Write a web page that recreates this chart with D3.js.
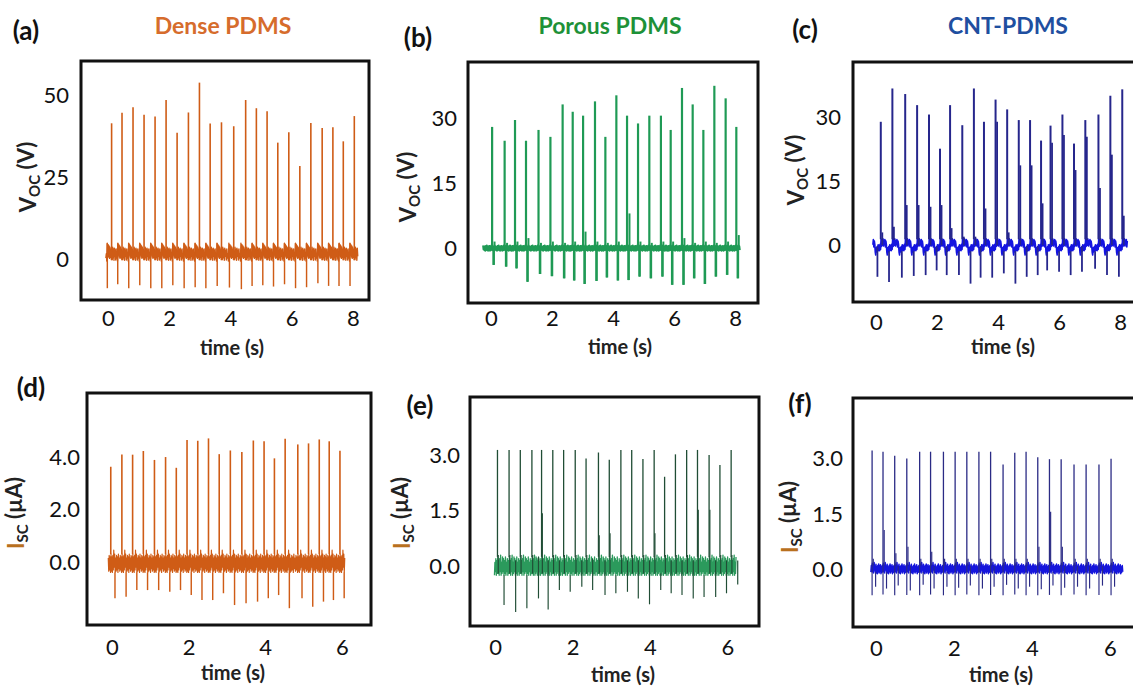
<!DOCTYPE html>
<html>
<head>
<meta charset="utf-8">
<script src="https://cdn.jsdelivr.net/npm/d3@7"></script>
<style>
  body { margin: 0; background: #fff; }
  text { font-family: Lato, "Open Sans", sans-serif; }
</style>
</head>
<body>
<script>
// ---- values ----

// tick labels
var timeTicks8 = [0, 2, 4, 6, 8];
var timeTicks6 = [0, 2, 4, 6];
var vocTicksA = [0, 25, 50];
var vocTicksBC = [0, 15, 30];
var iscTicksD = [0, 2, 4];
var iscTicksEF = [0, 1.5, 3];

// (a) dense PDMS, Voc (V)
var spikeTimeA = [0.12, 0.46, 0.82, 1.18, 1.54, 1.90, 2.26, 2.63, 2.99, 3.34, 3.71, 4.11, 4.50, 4.85, 5.20, 5.55, 5.91, 6.27, 6.63, 7.00, 7.35, 7.69, 8.05];
var vocA = [41.4, 44.6, 46.3, 44.0, 43.5, 48.5, 38.5, 44.7, 53.8, 41.3, 41.7, 40.5, 48.5, 46.0, 45.1, 35.5, 38.7, 28.4, 41.5, 40.0, 40.2, 35.9, 43.6];
var dipA = [-8.9, -7.7, -8.9, -8.0, -8.9, -8.9, -8.0, -8.9, -8.6, -8.9, -8.2, -8.7, -9.2, -8.2, -8.0, -8.4, -7.7, -8.9, -8.6, -7.4, -8.2, -8.2, -8.2];
var rippleA = [2.4, -0.2, 3.6, 0.4, 3.0, -0.4, 3.3, 0.8, 2.7, -0.3, 3.1, 0.3, 1.6, -0.6, 4.8, 1.2, 4.4, 0.6, 4.0, 0.2, 3.6, 0.5, 3.0, -0.2];

// (b) porous PDMS, Voc (V)
var spikeTimeB = [0.04, 0.45, 0.79, 1.15, 1.56, 1.95, 2.35, 2.68, 3.02, 3.41, 3.75, 4.11, 4.46, 4.82, 5.19, 5.57, 5.89, 6.26, 6.61, 6.96, 7.32, 7.69, 8.04];
var vocB = [28.0, 24.8, 29.6, 24.8, 27.3, 25.7, 33.2, 31.5, 30.6, 33.9, 25.7, 35.3, 30.6, 28.8, 30.6, 30.6, 27.3, 37.0, 33.2, 27.3, 37.5, 34.6, 28.0];
var dipB = [-3.9, -4.3, -4.7, -7.8, -6.0, -6.5, -7.0, -7.5, -8.3, -7.6, -6.8, -7.5, -7.4, -6.6, -7.0, -6.6, -8.5, -8.5, -7.0, -8.3, -6.6, -6.2, -7.0];
var bumpB = [1.5, 1.2, 1.5, 2.3, 1.2, 1.5, 1.2, 1.5, 3.8, 1.5, 1.2, 1.5, 8.0, 1.5, 1.2, 1.5, 1.5, 2.3, 1.2, 1.5, 1.2, 1.5, 3.0];
var rippleB = [0.5, -0.5, 0.3, -0.6, 0.6, -0.3, 0.4, -0.5, 0.2, -0.6, 0.5, -0.4, 0.6, -0.5, 0.3, -0.6, 0.4, -0.3, 0.5, -0.6, 0.2, -0.5, 0.6, -0.4];

// (c) CNT-PDMS, Voc (V)
var spikeTimeC = [0.16, 0.54, 0.96, 1.35, 1.74, 2.10, 2.43, 2.83, 3.21, 3.54, 3.92, 4.30, 4.68, 5.05, 5.41, 5.72, 6.11, 6.49, 6.86, 7.29, 7.68, 8.07];
var vocC = [28.9, 36.7, 35.4, 32.8, 30.6, 22.6, 32.8, 28.1, 36.7, 28.9, 34.1, 31.8, 29.3, 29.3, 24.5, 28.0, 30.6, 23.8, 29.3, 30.6, 35.0, 36.5];
var dipC = [-7.4, -8.6, -7.6, -7.2, -7.0, -5.9, -7.0, -7.0, -9.0, -7.6, -7.6, -6.6, -9.0, -7.4, -7.0, -5.9, -6.2, -7.0, -6.2, -5.5, -7.0, -7.4];
var bumpC = [3.0, 4.3, 9.4, 9.4, 9.0, 9.4, 4.0, 2.0, 2.0, 8.6, 28.9, 3.0, 18.7, 18.7, 9.8, 24.0, 25.8, 17.6, 25.4, 13.4, 21.2, 6.9];
var rippleC = [1.4, -0.3, 1.2, 0.0, 1.5, -0.2, 1.1, 0.1, 1.3, -0.4, 1.0, 0.2, -1.6, -2.3, -0.6, -1.6, -0.3, -1.4, 0.1, -1.2, -0.1, -1.3, 0.2, -1.0];

// (d) dense PDMS, Isc (uA)
var spikeTimeD = [-0.03, 0.26, 0.54, 0.82, 1.11, 1.40, 1.68, 1.96, 2.24, 2.52, 2.80, 3.09, 3.39, 3.69, 3.97, 4.24, 4.52, 4.85, 5.13, 5.41, 5.67, 5.95];
var iscD = [3.63, 4.10, 4.09, 4.23, 3.89, 4.00, 3.59, 4.65, 4.62, 4.71, 4.11, 4.25, 4.19, 4.63, 4.60, 3.95, 4.70, 4.48, 4.52, 4.67, 4.60, 4.24];
var dipD = [-1.38, -1.32, -1.07, -1.07, -1.07, -1.13, -1.07, -1.26, -1.45, -1.45, -1.19, -1.64, -1.57, -1.51, -1.38, -1.26, -1.76, -1.38, -1.70, -1.51, -1.45, -1.38];
var rippleD = [0.3, -0.35, 0.2, -0.4, 0.25, -0.3, 0.45, -0.2, 0.3, -0.4, 0.15, -0.35, 0.25, -0.3, 0.2, -0.4, 0.3, -0.25, 0.15, -0.35, 0.25, -0.3, 0.2, -0.4];

// (e) porous PDMS, Isc (uA)
var spikeTimeE = [0.06, 0.36, 0.65, 0.95, 1.20, 1.49, 1.77, 2.07, 2.35, 2.67, 2.95, 3.25, 3.53, 3.82, 4.11, 4.38, 4.66, 4.95, 5.23, 5.53, 5.81, 6.10];
var iscE = [3.16, 3.16, 3.16, 3.16, 3.16, 3.16, 3.16, 3.16, 2.93, 3.09, 2.89, 3.16, 3.16, 2.91, 3.16, 2.43, 3.04, 3.16, 3.16, 3.02, 2.75, 3.16];
var dipE = [-1.06, -1.25, -1.15, -0.88, -1.18, -0.65, -0.70, -0.56, -0.65, -0.79, -0.74, -0.70, -0.88, -1.04, -0.65, -0.74, -0.79, -0.88, -0.84, -0.84, -0.74, -0.50];
var bumpE = [0.3, 0.3, 0.3, 0.3, 1.44, 0.3, 0.3, 0.3, 0.3, 0.84, 0.89, 0.3, 0.3, 0.3, 0.89, 0.3, 0.3, 0.3, 1.53, 1.53, 0.3, 0.3];
var rippleE = [0.25, -0.2, 0.15, -0.25, 0.2, -0.15, 0.3, -0.25, 0.1, -0.2, 0.25, -0.15, 0.2, -0.25, 0.15, -0.2, 0.25, -0.25, 0.1, -0.15, 0.2, -0.25, 0.15, -0.2];

// (f) CNT-PDMS, Isc (uA)
var spikeTimeF = [-0.10, 0.18, 0.48, 0.79, 1.12, 1.40, 1.73, 2.03, 2.33, 2.64, 2.94, 3.26, 3.56, 3.85, 4.15, 4.45, 4.75, 5.08, 5.39, 5.72, 6.03];
var iscF = [3.20, 3.17, 3.06, 2.99, 3.17, 3.17, 3.17, 3.17, 3.17, 3.17, 3.17, 2.83, 3.14, 3.17, 3.02, 2.97, 2.97, 2.83, 2.83, 2.83, 2.98];
var dipF = [-0.68, -0.66, -0.68, -0.67, -0.68, -0.66, -0.68, -0.68, -0.66, -0.68, -0.67, -0.68, -0.66, -0.68, -0.68, -0.67, -0.68, -0.66, -0.68, -0.67, -0.68];
var dipF2 = [-0.45, -0.50, -0.42, -0.55, -0.40, -0.50, -0.45, -0.48, -0.42, -0.50, -0.45, -0.40, -0.50, -0.45, -0.52, -0.42, -0.48, -0.45, -0.50, -0.42, -0.45];
var bumpF = [0.3, 1.07, 0.45, 0.62, 0.3, 0.49, 0.3, 0.3, 0.3, 0.3, 0.3, 0.3, 0.3, 0.3, 0.62, 1.56, 0.62, 0.3, 0.3, 0.3, 0.3];
var rippleF = [0.18, -0.05, 0.12, -0.08, 0.2, 0.0, 0.1, -0.06, 0.15, -0.08, 0.08, -0.1, 0.12, -0.05, 0.16, -0.08, 0.1, -0.04, 0.14, -0.1, 0.08, -0.06, 0.12, -0.05];

// ---- panel layout (pixels) and styles ----
var orange = "#cf5c16", green = "#1f9a55";
var panels = [
  { tag: "(a)", tagAt: [26, 31], title: "Dense PDMS", titleAt: [223, 26], titleColor: "#d66c2c",
    box: [81, 61, 369, 300], xDom: [-0.88, 8.53], yDom: [-12.5, 60.4], xTicks: timeTicks8, yTicks: vocTicksA, fmt: "d",
    yGap: 12, xLab: 18, timeAt: [232, 348], yLabAt: [28, 177], yLab: "V",
    t: spikeTimeA, peak: vocA, marks: [{ lag: -0.14, v: dipA }], ripple: rippleA, span: [-0.08, 8.17],
    band: orange, bandW: 1.4, spike: orange, spikeW: 1.6 },
  { tag: "(b)", tagAt: [418, 38], title: "Porous PDMS", titleAt: [610, 26], titleColor: "#1e9138",
    box: [468, 62, 758, 303], xDom: [-0.75, 8.75], yDom: [-12.7, 43.0], xTicks: timeTicks8, yTicks: vocTicksBC, fmt: "d",
    yGap: 11, xLab: 15, timeAt: [620, 347], yLabAt: [408, 187], yLab: "V",
    t: spikeTimeB, peak: vocB, marks: [{ lag: 0.04, v: dipB }, { lag: 0.06, v: dipB }, { lag: 0.08, v: bumpB }], ripple: rippleB, span: [-0.27, 8.16],
    band: green, bandW: 2, spike: green, spikeW: 2.2 },
  { tag: "(c)", tagAt: [805, 30], title: "CNT-PDMS", titleAt: [1008, 26], titleColor: "#1f4fa0",
    box: [853, 62, 1136, 302], xDom: [-0.75, 8.52], yDom: [-13.3, 42.9], xTicks: timeTicks8, yTicks: vocTicksBC, fmt: "d",
    yGap: 12, xLab: 20, timeAt: [1003, 347], yLabAt: [796, 170], yLab: "V",
    t: spikeTimeC, peak: vocC, marks: [{ lag: -0.11, v: dipC }, { lag: 0.05, v: bumpC }], ripple: rippleC, span: [-0.11, 8.24],
    band: "#1414e0", bandW: 1.6, spike: "#26268c", spikeW: 2.0 },
  { tag: "(d)", tagAt: [31, 388], title: null,
    box: [87, 393, 371, 625], xDom: [-0.65, 6.76], yDom: [-2.4, 6.44], xTicks: timeTicks6, yTicks: iscTicksD, fmt: ".1f",
    yGap: 7, xLab: 22, timeAt: [233, 673], yLabAt: [16, 513], yLab: "I",
    t: spikeTimeD, peak: iscD, marks: [{ lag: 0.11, v: dipD }], ripple: rippleD, span: [-0.10, 6.08],
    band: orange, bandW: 1.2, spike: orange, spikeW: 1.6 },
  { tag: "(e)", tagAt: [420, 406], title: null,
    box: [470, 397, 759, 626], xDom: [-0.65, 6.82], yDom: [-1.63, 4.6], xTicks: timeTicks6, yTicks: iscTicksEF, fmt: ".1f",
    yGap: 10, xLab: 21, timeAt: [623, 675], yLabAt: [402, 513], yLab: "I",
    t: spikeTimeE, peak: iscE, marks: [{ lag: 0.17, v: dipE }, { lag: 0.02, v: bumpE }], ripple: rippleE, span: [-0.02, 6.23],
    band: "#2b9a5c", bandW: 1.3, spike: "#204d35", spikeW: 1.3 },
  { tag: "(f)", tagAt: [800, 404], title: null,
    box: [853, 398, 1136, 627], xDom: [-0.59, 6.67], yDom: [-1.53, 4.61], xTicks: timeTicks6, yTicks: iscTicksEF, fmt: ".1f",
    yGap: 10, xLab: 21, timeAt: [1001, 675], yLabAt: [790, 517], yLab: "I",
    t: spikeTimeF, peak: iscF, marks: [{ lag: 0, v: dipF }, { lag: 0.09, v: dipF2 }, { lag: 0.03, v: bumpF }], ripple: rippleF, span: [-0.14, 6.34],
    band: "#1515dc", bandW: 1.5, spike: "#2b2b85", spikeW: 1.3 }
];

var svg = d3.select("body")
  .append("svg")
  .attr("width", 1133)
  .attr("height", 687);

panels.forEach(drawPanel);

// baseline level at time t: the ripple pattern is laid once over every spike-to-spike cycle
function baseAt(p, t) {
  var st = p.t, n = st.length, m = p.ripple.length;
  var period = (st[n - 1] - st[0]) / (n - 1);
  var k = d3.bisectRight(st, t) - 1;
  var start, len = period;
  if (k < 0) start = st[0] - period * Math.ceil((st[0] - t) / period);
  else if (k >= n - 1) start = st[n - 1] + period * Math.floor((t - st[n - 1]) / period);
  else { start = st[k]; len = st[k + 1] - st[k]; }
  var idx = Math.max(0, Math.min(m - 1, Math.floor((t - start) / len * m)));
  return p.ripple[idx];
}

function drawPanel(p) {
  var x = d3.scaleLinear().domain(p.xDom).range([p.box[0], p.box[2]]);
  var y = d3.scaleLinear().domain(p.yDom).range([p.box[3], p.box[1]]);
  var st = p.t, n = st.length, m = p.ripple.length;
  var period = (st[n - 1] - st[0]) / (n - 1);

  // sample the ripple pattern cycle by cycle
  var starts = [st[0] - 2 * period, st[0] - period].concat(st, [st[n - 1] + period]);
  var pts = [];
  starts.forEach(function(s, i) {
    var len = (i >= 2 && i < n + 1) ? (starts[i + 1] - s) : period;
    if (i === n + 1) len = period;
    for (var j = 0; j < m; j++) {
      var tt = s + (j + 0.5) / m * len;
      if (tt >= p.span[0] && tt <= p.span[1]) pts.push([tt, p.ripple[j]]);
    }
  });

  var line = d3.line()
    .x(function(d) { return x(d[0]); })
    .y(function(d) { return y(d[1]); });

  var g = svg.append("g");

  // noisy baseline band
  g.append("path")
    .datum(pts)
    .attr("d", line)
    .attr("fill", "none")
    .attr("stroke", p.band)
    .attr("stroke-width", p.bandW)
    .attr("stroke-linejoin", "round");

  // dips and small bumps next to each spike, then the spikes
  var events = [];
  p.marks.forEach(function(mk) {
    st.forEach(function(t, i) { events.push({ t: t + mk.lag, v: mk.v[i] }); });
  });
  st.forEach(function(t, i) { events.push({ t: t, v: p.peak[i], main: true }); });

  g.selectAll("line.ev")
    .data(events)
    .enter()
    .append("line")
    .attr("class", "ev")
    .attr("x1", function(d) { return x(d.t); })
    .attr("x2", function(d) { return x(d.t); })
    .attr("y1", function(d) { return y(baseAt(p, d.t)); })
    .attr("y2", function(d) { return y(d.v); })
    .attr("stroke", p.spike)
    .attr("stroke-width", function(d) { return d.main ? p.spikeW : p.spikeW * 0.9; });

  // frame
  svg.append("rect")
    .attr("x", p.box[0])
    .attr("y", p.box[1])
    .attr("width", p.box[2] - p.box[0])
    .attr("height", p.box[3] - p.box[1])
    .attr("fill", "none")
    .attr("stroke", "#111")
    .attr("stroke-width", 3);

  // axes: labels only, no tick marks
  var xAxis = svg.append("g")
    .attr("transform", "translate(0," + p.box[3] + ")")
    .call(d3.axisBottom(x).tickValues(p.xTicks).tickSize(0).tickFormat(d3.format("d")));
  xAxis.select(".domain").remove();
  xAxis.selectAll("text")
    .attr("y", p.xLab)
    .attr("dy", "0.35em")
    .attr("fill", "#111")
    .style("font-size", "22px");

  var yAxis = svg.append("g")
    .attr("transform", "translate(" + p.box[0] + ",0)")
    .call(d3.axisLeft(y).tickValues(p.yTicks).tickSize(0).tickPadding(p.yGap).tickFormat(d3.format(p.fmt)));
  yAxis.select(".domain").remove();
  yAxis.selectAll("text")
    .attr("fill", "#111")
    .style("font-size", "22px");

  // axis titles
  svg.append("text")
    .attr("x", p.timeAt[0])
    .attr("y", p.timeAt[1])
    .attr("dy", "0.35em")
    .attr("text-anchor", "middle")
    .style("font-size", "20px")
    .style("font-weight", "bold")
    .attr("fill", "#222")
    .text("time (s)");

  var yl = svg.append("text")
    .attr("transform", "translate(" + p.yLabAt[0] + "," + p.yLabAt[1] + ") rotate(-90)")
    .attr("dy", "0.35em")
    .attr("text-anchor", "middle")
    .style("font-size", "22px")
    .style("font-weight", "bold")
    .attr("fill", "#222");
  yl.append("tspan").text(p.yLab).attr("fill", p.yLab === "I" ? "#b8701e" : "#222");
  yl.append("tspan").attr("dy", "0.3em").style("font-size", "15px").text(p.yLab === "I" ? "SC" : "OC");
  yl.append("tspan").attr("dy", "-0.3em").text(p.yLab === "I" ? " (\u00b5A)" : " (V)");

  // panel tag and column title
  svg.append("text")
    .attr("x", p.tagAt[0])
    .attr("y", p.tagAt[1])
    .attr("dy", "0.35em")
    .attr("text-anchor", "middle")
    .style("font-size", "26px")
    .style("font-weight", "bold")
    .attr("fill", "#111")
    .text(p.tag);

  if (p.title) {
    svg.append("text")
      .attr("x", p.titleAt[0])
      .attr("y", p.titleAt[1])
      .attr("dy", "0.35em")
      .attr("text-anchor", "middle")
      .style("font-size", "23px")
      .style("font-weight", "bold")
      .attr("fill", p.titleColor)
      .text(p.title);
  }
}
</script>
</body>
</html>
